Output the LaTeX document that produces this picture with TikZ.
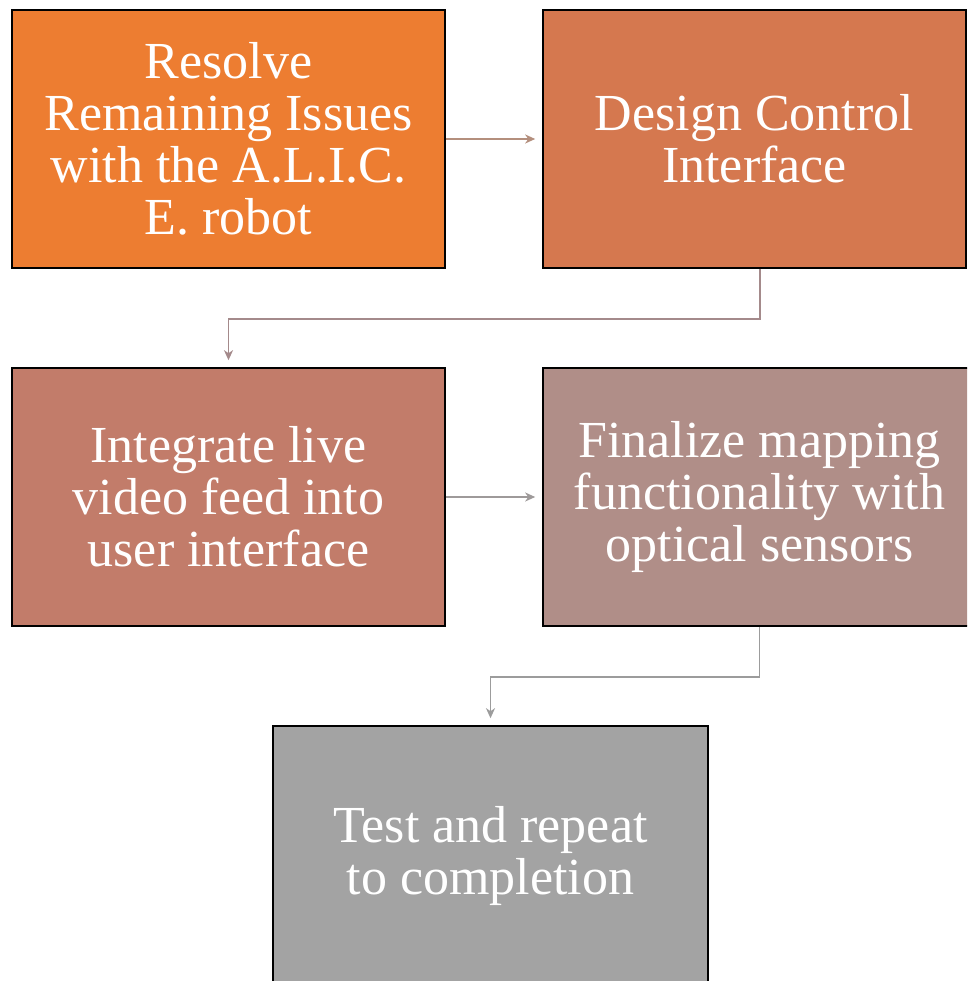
\documentclass[tikz,border=0pt]{standalone}
\usepackage{fontspec}
\setmainfont{Liberation Serif}
\usetikzlibrary{arrows.meta}
\definecolor{stepA}{HTML}{ED7D31}
\definecolor{stepB}{HTML}{D5784F}
\definecolor{stepC}{HTML}{C27C6A}
\definecolor{stepD}{HTML}{B08E88}
\definecolor{stepE}{HTML}{A3A3A3}
\definecolor{linkA}{HTML}{B48F7D}
\definecolor{linkB}{HTML}{A48A8B}
\definecolor{linkC}{HTML}{9E9A9A}
\definecolor{linkD}{HTML}{9C9C9C}
\begin{document}
\begin{tikzpicture}[x=1pt,y=-1pt,
    stepbox/.style={draw=black,line width=1.6pt,text=white,align=center,
      inner sep=0pt,minimum width=433pt,minimum height=258pt,
      font=\fontsize{52}{52}\selectfont},
    link/.style={line width=1.6pt,-{Stealth[length=10pt,width=9pt,inset=3pt]},shorten >=7pt}]
      \useasboundingbox (0,0) rectangle (967,981);
      \clip (0,0) rectangle (967,981);
      \draw
        (228.5,139) node[stepbox,fill=stepA] (1){Resolve\\Remaining Issues\\with the A.L.I.C.\\E. robot}
        (754.5,139) node[stepbox,fill=stepB,minimum width=423pt] (2){Design Control\\Interface}
        (228.5,497) node[stepbox,fill=stepC] (3){Integrate live\\video feed into\\user interface}
        (759.5,497) node[stepbox,fill=stepD] (4){Finalize mapping\\functionality with\\optical sensors}
        (490.5,856) node[stepbox,fill=stepE,minimum width=435pt,minimum height=260pt] (5){Test and repeat\\to completion};
      \begin{scope}[link]
        \draw[linkA] (1) to (2);
        \draw[linkB] ([xshift=5.5pt]2.south) -- ++(0,50) -| (3.north);
        \draw[linkC] (3) to (4);
        \draw[linkD] (4.south) -- ++(0,50) -| (5.north);
      \end{scope}
    \end{tikzpicture}
\end{document}
